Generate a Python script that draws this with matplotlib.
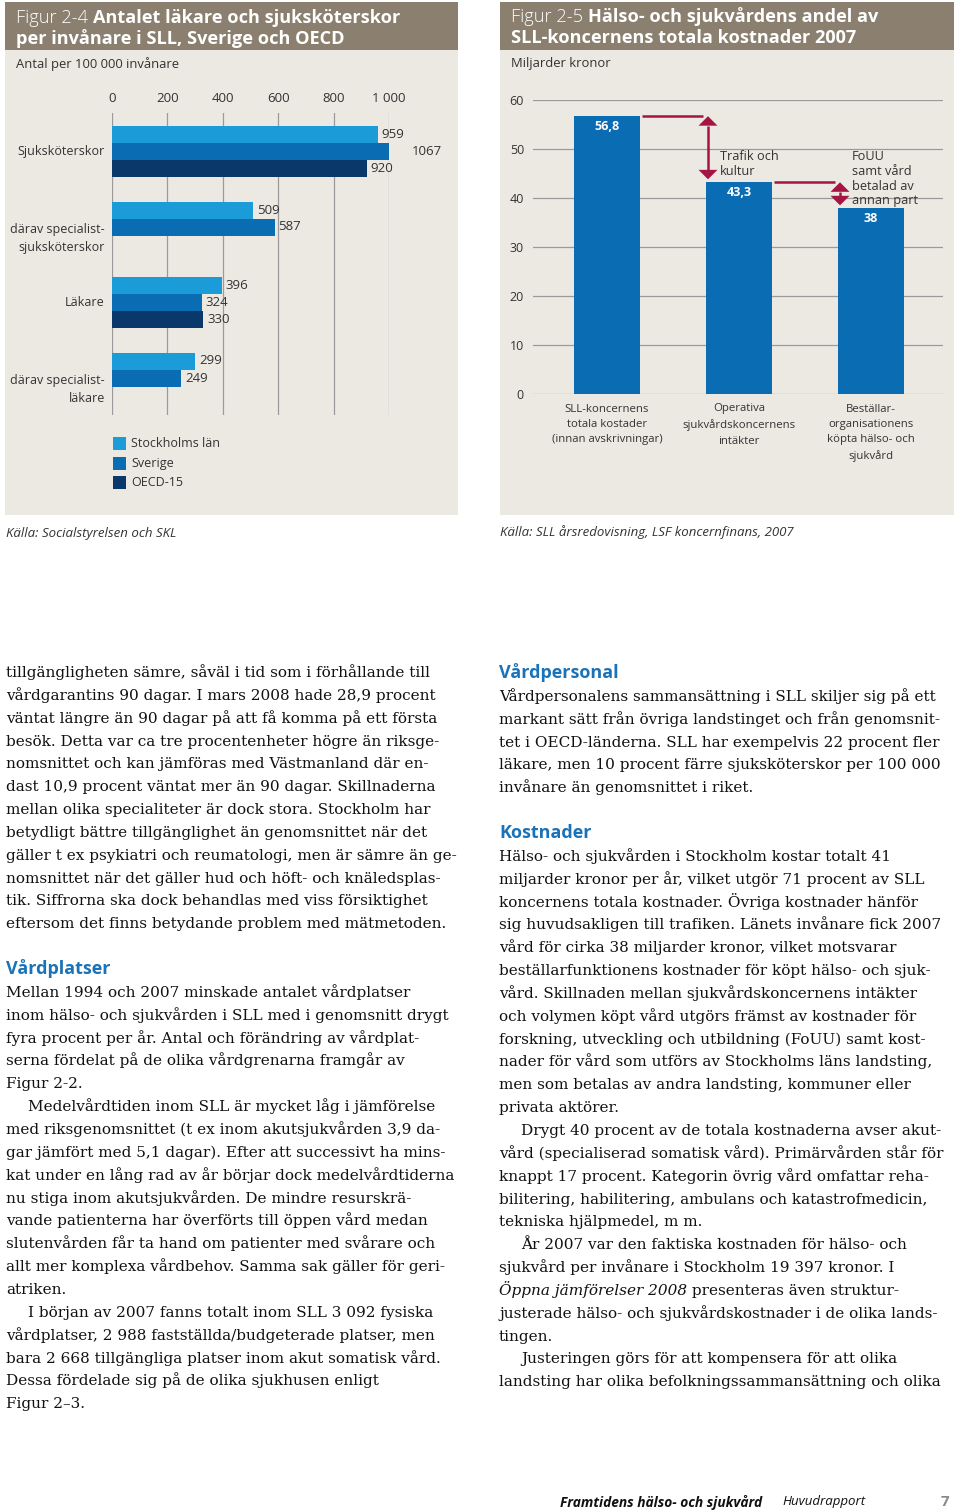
import matplotlib
matplotlib.use("Agg")
import matplotlib.pyplot as plt
from matplotlib.patches import Rectangle, Polygon
import numpy as np

# ---------------- data: Figur 2-4 ----------------
categories_24 = ["Sjuksköterskor", "därav specialist-\nsjuksköterskor",
                 "Läkare", "därav specialist-\nläkare"]
series_names = ["Stockholms län", "Sverige", "OECD-15"]
stockholm = [959, 509, 396, 299]
sverige = [1067, 587, 324, 249]
oecd15 = [920, np.nan, 330, np.nan]
xticks_24 = [0, 200, 400, 600, 800, 1000]
xticklabels_24 = ["0", "200", "400", "600", "800", "1 000"]

# ---------------- data: Figur 2-5 ----------------
categories_25 = ["SLL-koncernens\ntotala kostader\n(innan avskrivningar)",
                 "Operativa\nsjukvårdskoncernens\nintäkter",
                 "Beställar-\norganisationens\nköpta hälso- och\nsjukvård"]
costs = [56.8, 43.3, 38.0]
cost_labels = ["56,8", "43,3", "38"]
gap_labels = ["Trafik och\nkultur", "FoUU\nsamt vård\nbetalad av\nannan part"]
yticks_25 = [0, 10, 20, 30, 40, 50, 60]

# ---------------- body text ----------------
left_col = [
    ("p", "tillgängligheten sämre, såväl i tid som i förhållande till"),
    ("p", "vårdgarantins 90 dagar. I mars 2008 hade 28,9 procent"),
    ("p", "väntat längre än 90 dagar på att få komma på ett första"),
    ("p", "besök. Detta var ca tre procentenheter högre än riksge-"),
    ("p", "nomsnittet och kan jämföras med Västmanland där en-"),
    ("p", "dast 10,9 procent väntat mer än 90 dagar. Skillnaderna"),
    ("p", "mellan olika specialiteter är dock stora. Stockholm har"),
    ("p", "betydligt bättre tillgänglighet än genomsnittet när det"),
    ("p", "gäller t ex psykiatri och reumatologi, men är sämre än ge-"),
    ("p", "nomsnittet när det gäller hud och höft- och knäledsplas-"),
    ("p", "tik. Siffrorna ska dock behandlas med viss försiktighet"),
    ("p", "eftersom det finns betydande problem med mätmetoden."),
    ("", ""),
    ("h", "Vårdplatser"),
    ("p", "Mellan 1994 och 2007 minskade antalet vårdplatser"),
    ("p", "inom hälso- och sjukvården i SLL med i genomsnitt drygt"),
    ("p", "fyra procent per år. Antal och förändring av vårdplat-"),
    ("p", "serna fördelat på de olika vårdgrenarna framgår av"),
    ("p", "Figur 2-2."),
    ("i", "Medelvårdtiden inom SLL är mycket låg i jämförelse"),
    ("p", "med riksgenomsnittet (t ex inom akutsjukvården 3,9 da-"),
    ("p", "gar jämfört med 5,1 dagar). Efter att successivt ha mins-"),
    ("p", "kat under en lång rad av år börjar dock medelvårdtiderna"),
    ("p", "nu stiga inom akutsjukvården. De mindre resurskrä-"),
    ("p", "vande patienterna har överförts till öppen vård medan"),
    ("p", "slutenvården får ta hand om patienter med svårare och"),
    ("p", "allt mer komplexa vårdbehov. Samma sak gäller för geri-"),
    ("p", "atriken."),
    ("i", "I början av 2007 fanns totalt inom SLL 3 092 fysiska"),
    ("p", "vårdplatser, 2 988 fastställda/budgeterade platser, men"),
    ("p", "bara 2 668 tillgängliga platser inom akut somatisk vård."),
    ("p", "Dessa fördelade sig på de olika sjukhusen enligt"),
    ("p", "Figur 2–3."),
]
right_col = [
    ("h", "Vårdpersonal"),
    ("p", "Vårdpersonalens sammansättning i SLL skiljer sig på ett"),
    ("p", "markant sätt från övriga landstinget och från genomsnit-"),
    ("p", "tet i OECD-länderna. SLL har exempelvis 22 procent fler"),
    ("p", "läkare, men 10 procent färre sjuksköterskor per 100 000"),
    ("p", "invånare än genomsnittet i riket."),
    ("", ""),
    ("h", "Kostnader"),
    ("p", "Hälso- och sjukvården i Stockholm kostar totalt 41"),
    ("p", "miljarder kronor per år, vilket utgör 71 procent av SLL"),
    ("p", "koncernens totala kostnader. Övriga kostnader hänför"),
    ("p", "sig huvudsakligen till trafiken. Länets invånare fick 2007"),
    ("p", "vård för cirka 38 miljarder kronor, vilket motsvarar"),
    ("p", "beställarfunktionens kostnader för köpt hälso- och sjuk-"),
    ("p", "vård. Skillnaden mellan sjukvårdskoncernens intäkter"),
    ("p", "och volymen köpt vård utgörs främst av kostnader för"),
    ("p", "forskning, utveckling och utbildning (FoUU) samt kost-"),
    ("p", "nader för vård som utförs av Stockholms läns landsting,"),
    ("p", "men som betalas av andra landsting, kommuner eller"),
    ("p", "privata aktörer."),
    ("i", "Drygt 40 procent av de totala kostnaderna avser akut-"),
    ("p", "vård (specialiserad somatisk vård). Primärvården står för"),
    ("p", "knappt 17 procent. Kategorin övrig vård omfattar reha-"),
    ("p", "bilitering, habilitering, ambulans och katastrofmedicin,"),
    ("p", "tekniska hjälpmedel, m m."),
    ("i", "År 2007 var den faktiska kostnaden för hälso- och"),
    ("p", "sjukvård per invånare i Stockholm 19 397 kronor. I"),
    ("p", "*Öppna jämförelser 2008* presenteras även struktur-"),
    ("p", "justerade hälso- och sjukvårdskostnader i de olika lands-"),
    ("p", "tingen."),
    ("i", "Justeringen görs för att kompensera för att olika"),
    ("p", "landsting har olika befolkningssammansättning och olika"),
]

# ---------------- style ----------------
W, H = 960, 1512
SANS = ["Open Sans", "DejaVu Sans"]
SERIF = ["DejaVu Serif"]
BAND = "#8b806f"
PANEL = "#ece9e3"
C_LIGHT, C_MID, C_DARK = "#1b9bd7", "#0a6db4", "#0b386b"
RED = "#a51443"
HEAD_BLUE = "#1a72b8"
TXT = "#333333"
GRID = "#9a9a9a"

plt.rcParams["font.family"] = SANS

fig = plt.figure(figsize=(W / 100, H / 100), dpi=100)
fig.patch.set_facecolor("white")
pg = fig.add_axes([0, 0, 1, 1], zorder=0)
pg.set_xlim(0, W)
pg.set_ylim(H, 0)
pg.axis("off")
renderer = fig.canvas.get_renderer()


def width_px(t):
    return t.get_window_extent(renderer=renderer).width


def px_axes(x0, y0, x1, y1):
    ax = fig.add_axes([x0 / W, 1 - y1 / H, (x1 - x0) / W, (y1 - y0) / H], zorder=2)
    ax.set_facecolor("none")
    for s in ax.spines.values():
        s.set_visible(False)
    return ax


# panels
for x0, w in [(5, 453), (500, 454)]:
    pg.add_patch(Rectangle((x0, 2), w, 513, fc=PANEL, ec="none"))
    pg.add_patch(Rectangle((x0, 2), w, 48, fc=BAND, ec="none"))

TFS = 13.1


def title(x, y1, y2, prefix, line1, line2):
    t = pg.text(x, y1, prefix, color="white", fontsize=TFS, va="baseline",
                fontweight="light")
    wpx = width_px(t)
    pg.text(x + wpx + 5, y1, line1, color="white", fontsize=TFS,
            fontweight="bold", va="baseline")
    pg.text(x, y2, line2, color="white", fontsize=TFS, fontweight="bold",
            va="baseline")


title(16, 23, 44, "Figur 2-4", "Antalet läkare och sjuksköterskor",
      "per invånare i SLL, Sverige och OECD")
title(511, 22, 43, "Figur 2-5", "Hälso- och sjukvårdens andel av",
      "SLL-koncernens totala kostnader 2007")
pg.text(16, 64, "Antal per 100 000 invånare", fontsize=9.4, color=TXT, va="center")
pg.text(511, 64, "Miljarder kronor", fontsize=9.4, color=TXT, va="center")

# ---------------- Figur 2-4 chart ----------------
ax1 = px_axes(112, 113, 389, 415)
UNIT = 75.5                      # px per category
PXX = 277 / 1000                 # px per value unit
ax1.set_xlim(0, 1000)
ax1.set_ylim((415 - 151.5) / UNIT, (113 - 151.5) / UNIT)
ax1.set_xticks(xticks_24)
ax1.set_xticklabels(xticklabels_24)
ax1.set_yticks([])
ax1.tick_params(axis="x", top=True, bottom=False, labeltop=True,
                labelbottom=False, length=0, pad=6, labelsize=9.5,
                labelcolor=TXT)
ax1.grid(axis="x", color=GRID, lw=0.9)
ax1.set_axisbelow(True)
bh = 17 / UNIT
for j, (vals, col) in enumerate(zip([stockholm, sverige, oecd15],
                                    [C_LIGHT, C_MID, C_DARK])):
    ys = np.arange(len(vals)) + (j - 1) * bh
    ax1.barh(ys, vals, height=bh, color=col, lw=0, zorder=2)
    for y, v in zip(ys, vals):
        if not np.isnan(v):
            ax1.text(v + 4 / PXX, y, f"{v:.0f}", ha="left", va="center",
                     fontsize=9.5, color=TXT, clip_on=False, zorder=3)
for i, lab in enumerate(categories_24):
    off = 11.5 / UNIT if "\n" in lab else 0
    ax1.text(-7 / PXX, i + off, lab, ha="right", va="center",
             multialignment="right", fontsize=9.0, color=TXT,
             linespacing=1.55, clip_on=False)

# legend
for k, (name, col) in enumerate(zip(series_names, [C_LIGHT, C_MID, C_DARK])):
    yt = 437 + k * 19.5
    pg.add_patch(Rectangle((113, yt), 13, 13, fc=col, ec="none"))
    pg.text(131, yt + 6.5, name, fontsize=9.0, color=TXT, va="center")

# ---------------- Figur 2-5 chart ----------------
ax2 = px_axes(533, 100, 943, 394)
PXY = 294 / 60
BW = 132
ax2.set_ylim(0, 60)
ax2.set_xlim(-74 / BW, 336 / BW)
ax2.set_yticks(yticks_25)
ax2.set_xticks([])
ax2.tick_params(axis="y", length=0, pad=6.5, labelsize=9, labelcolor=TXT)
ax2.grid(axis="y", color=GRID, lw=0.9)
ax2.set_axisbelow(True)
xs = np.arange(len(costs))
ax2.bar(xs, costs, width=66 / BW, color=C_MID, lw=0, zorder=2)
for x, v, lab in zip(xs, costs, cost_labels):
    ax2.text(x, v - 11 / PXY, lab, ha="center", va="center", color="white",
             fontweight="bold", fontsize=9, zorder=3)

HW, HL = 9.5 / BW, 9.5 / PXY          # arrow head half-width / length
for i in range(len(costs) - 1):
    ax2.plot([i + 35 / BW, i + 96 / BW], [costs[i], costs[i]], color=RED,
             lw=1.8, solid_capstyle="butt", zorder=3)
    xa = i + 101 / BW
    ytop = costs[i] - 0.5 / PXY
    ybot = costs[i + 1] + 2.5 / PXY
    ax2.plot([xa, xa], [ytop - HL, ybot + HL], color=RED, lw=1.8, zorder=3,
             solid_capstyle="butt")
    ax2.add_patch(Polygon([(xa, ytop), (xa - HW, ytop - HL), (xa + HW, ytop - HL)],
                          closed=True, fc=RED, ec="none", zorder=3))
    ax2.add_patch(Polygon([(xa, ybot), (xa - HW, ybot + HL), (xa + HW, ybot + HL)],
                          closed=True, fc=RED, ec="none", zorder=3))
    ax2.text(i + 113 / BW, (394 - 150.5) / PXY, gap_labels[i], ha="left",
             va="top", fontsize=9.2, color=TXT, linespacing=1.15, zorder=4)
for x, lab in zip(xs, categories_25):
    ax2.text(x, -9.5 / PXY, lab, ha="center", va="top", fontsize=8.2,
             color=TXT, linespacing=1.55, clip_on=False)

# sources
pg.text(6, 533, "Källa: Socialstyrelsen och SKL", fontsize=9.5,
        style="italic", color=TXT, va="center")
pg.text(500, 532, "Källa: SLL årsredovisning, LSF koncernfinans, 2007",
        fontsize=9.5, style="italic", color=TXT, va="center")

# ---------------- body text ----------------
probe = pg.text(0, -100, left_col[0][1], fontsize=10, family=SERIF)
BFS = 10 * 427 / width_px(probe)
probe.remove()
LS = 22.85


def draw_col(lines, x0, y0):
    for k, (kind, txt) in enumerate(lines):
        y = y0 + k * LS
        if kind == "":
            continue
        if kind == "h":
            pg.text(x0, y + 6, txt, fontsize=13.0, fontweight="bold",
                    color=HEAD_BLUE, va="baseline")
            continue
        x = x0 + (22 if kind == "i" else 0)
        if txt.startswith("*"):
            it, rest = txt[1:].split("*", 1)
            t = pg.text(x, y + 6, it, fontsize=BFS, family=SERIF,
                        style="italic", color="#111111", va="baseline")
            x += width_px(t)
            txt = rest
        pg.text(x, y + 6, txt, fontsize=BFS, family=SERIF, color="#111111",
                va="baseline")


draw_col(left_col, 6, 671)
draw_col(right_col, 499, 672)

# footer
pg.text(560, 1502, "Framtidens hälso- och sjukvård", fontsize=9.9,
        fontweight="bold", style="italic", color="#111111", va="center")
pg.text(782, 1502, "Huvudrapport", fontsize=9.5, style="italic",
        color="#111111", va="center")
pg.text(945, 1502, "7", fontsize=11, fontweight="bold", color="#8a8a8a",
        va="center", ha="center")

fig.savefig("out.png", dpi=100, facecolor="white")
